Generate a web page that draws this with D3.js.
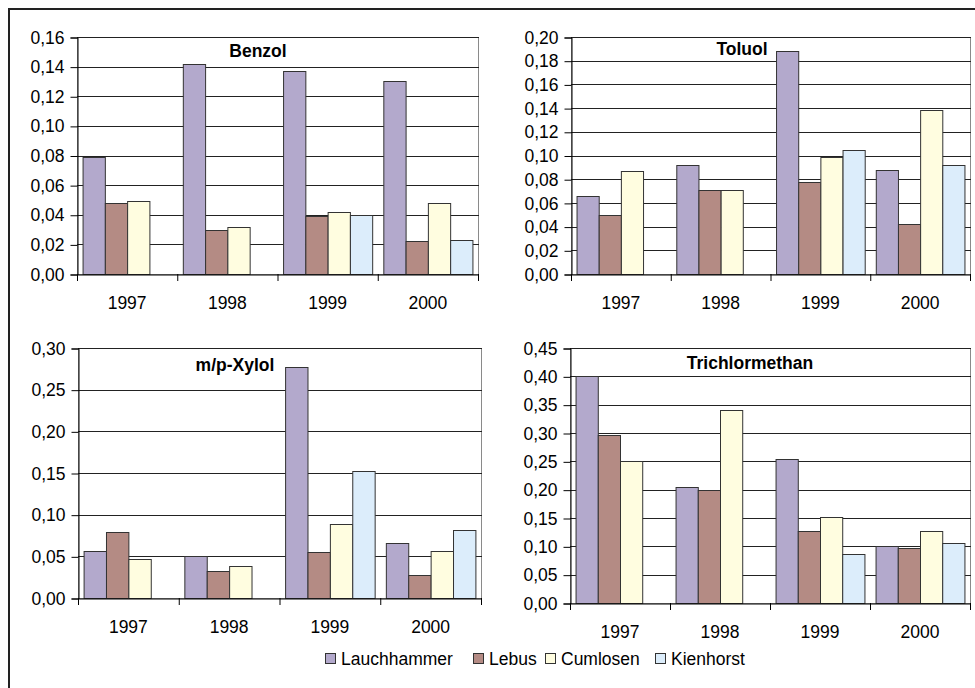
<!DOCTYPE html>
<html>
<head>
<meta charset="utf-8">
<script src="https://cdn.jsdelivr.net/npm/d3@7"></script>
<style>
  body { margin: 0; background: #fff; }
  svg text { font-family: "Liberation Sans", Arial, sans-serif; fill: #000; }
</style>
</head>
<body>
<svg id="chart" width="975" height="688"></svg>
<script>
var years = ["1997", "1998", "1999", "2000"];
var stations = ["Lauchhammer", "Lebus", "Cumlosen", "Kienhorst"];
var colors = ["#b3a9cc", "#b48b84", "#fffde0", "#dcedfb"];

// values per station, one entry per year (null = no measurement)
var benzol = [
    [0.079, 0.142, 0.137, 0.130],
    [0.048, 0.030, 0.039, 0.022],
    [0.049, 0.032, 0.042, 0.048],
    [null, null, 0.040, 0.023]
];
var toluol = [
    [0.066, 0.092, 0.188, 0.088],
    [0.050, 0.071, 0.078, 0.042],
    [0.087, 0.071, 0.099, 0.138],
    [null, null, 0.105, 0.092]
];
var xylol = [
    [0.057, 0.050, 0.277, 0.066],
    [0.079, 0.032, 0.055, 0.028],
    [0.047, 0.038, 0.089, 0.056],
    [null, null, 0.152, 0.082]
];
var trichlor = [
    [0.400, 0.205, 0.254, 0.100],
    [0.297, 0.200, 0.127, 0.097],
    [0.250, 0.340, 0.152, 0.127],
    [null, null, 0.087, 0.106]
];

var panels = [
    {title: "Benzol", data: benzol, max: 0.16, step: 0.02, x0: 77, x1: 478, y0: 37, y1: 274, tx: 258, ty: 57},
    {title: "Toluol", data: toluol, max: 0.20, step: 0.02, x0: 571, x1: 970, y0: 37, y1: 274, tx: 742, ty: 55},
    {title: "m/p-Xylol", data: xylol, max: 0.30, step: 0.05, x0: 78, x1: 481, y0: 348, y1: 598, tx: 235, ty: 371},
    {title: "Trichlormethan", data: trichlor, max: 0.45, step: 0.05, x0: 570, x1: 970, y0: 348, y1: 603, tx: 750, ty: 369}
];

var svg = d3.select("#chart");
var fmt = function(v){ return d3.format(".2f")(v).replace(".", ","); };

// outer frame (runs off the right and bottom edge)
svg.append("rect")
    .attr("x", 9).attr("y", 9)
    .attr("width", 1000).attr("height", 700)
    .attr("fill", "none").attr("stroke", "#222").attr("stroke-width", 2);

panels.forEach(function(p){
    var g = svg.append("g");
    var x = d3.scaleBand().domain(years).range([p.x0, p.x1]);
    var y = d3.scaleLinear().domain([0, p.max]).range([p.y1, p.y0]);
    var ticks = d3.range(0, p.max + p.step / 2, p.step);
    var bw = x.bandwidth() / 4.5;
    var off = x.bandwidth() * 0.25 / 4.5;

    // plot border
    g.append("rect")
        .attr("x", p.x0 + 0.5).attr("y", p.y0 + 0.5)
        .attr("width", p.x1 - p.x0).attr("height", p.y1 - p.y0)
        .attr("fill", "none").attr("stroke", "#8a8a8a");

    // gridlines
    g.selectAll(".grid").data(ticks.slice(1)).enter().append("line")
        .attr("x1", p.x0).attr("x2", p.x1 + 1)
        .attr("y1", function(d){ return Math.round(y(d)) + 0.5; })
        .attr("y2", function(d){ return Math.round(y(d)) + 0.5; })
        .attr("stroke", "#222");

    // bars
    p.data.forEach(function(vals, si){
        g.selectAll(".bar" + si).data(vals.map(function(v, i){ return {year: years[i], v: v}; })
            .filter(function(d){ return d.v !== null; }))
            .enter().append("rect")
            .attr("x", function(d){ return x(d.year) + off + si * bw + 0.5; })
            .attr("y", function(d){ return Math.round(y(d.v)) + 0.5; })
            .attr("width", bw)
            .attr("height", function(d){ return p.y1 - Math.round(y(d.v)); })
            .attr("fill", colors[si])
            .attr("stroke", "#333").attr("stroke-width", 1);
    });

    // y axis
    var ya = g.append("g")
        .attr("transform", "translate(" + (p.x0 + 0.5) + ",0.5)")
        .call(d3.axisLeft(y).tickValues(ticks).tickFormat(fmt).tickSize(7).tickPadding(6));
    ya.select(".domain").attr("stroke", "#000");
    ya.selectAll("line").attr("stroke", "#000");
    ya.selectAll("text").attr("font-size", "17.5px").attr("font-family", "Liberation Sans, Arial, sans-serif");

    // x axis
    var xa = g.append("g")
        .attr("transform", "translate(0," + (p.y1 + 0.5) + ")")
        .call(d3.axisBottom(x).tickSize(0).tickPadding(22));
    xa.select(".domain").attr("stroke", "#000");
    xa.selectAll("text").attr("font-size", "17.5px").attr("font-family", "Liberation Sans, Arial, sans-serif");
    g.selectAll(".xt").data(years.concat(["end"])).enter().append("line")
        .attr("x1", function(d, i){ return p.x0 + i * x.bandwidth() + 0.5; })
        .attr("x2", function(d, i){ return p.x0 + i * x.bandwidth() + 0.5; })
        .attr("y1", p.y1).attr("y2", p.y1 + 7)
        .attr("stroke", "#000");

    g.append("text")
        .attr("x", p.tx).attr("y", p.ty)
        .attr("text-anchor", "middle")
        .attr("font-size", "17.5px").attr("font-weight", "bold")
        .text(p.title);
});

// legend
var legendX = [325, 473, 545, 655];
var lg = svg.append("g");
stations.forEach(function(s, i){
    lg.append("rect")
        .attr("x", legendX[i] + 0.5).attr("y", 653.5)
        .attr("width", 10).attr("height", 10)
        .attr("fill", colors[i]).attr("stroke", "#333");
    lg.append("text")
        .attr("x", legendX[i] + 16).attr("y", 665)
        .attr("font-size", "17.5px")
        .text(s);
});
</script>
</body>
</html>
